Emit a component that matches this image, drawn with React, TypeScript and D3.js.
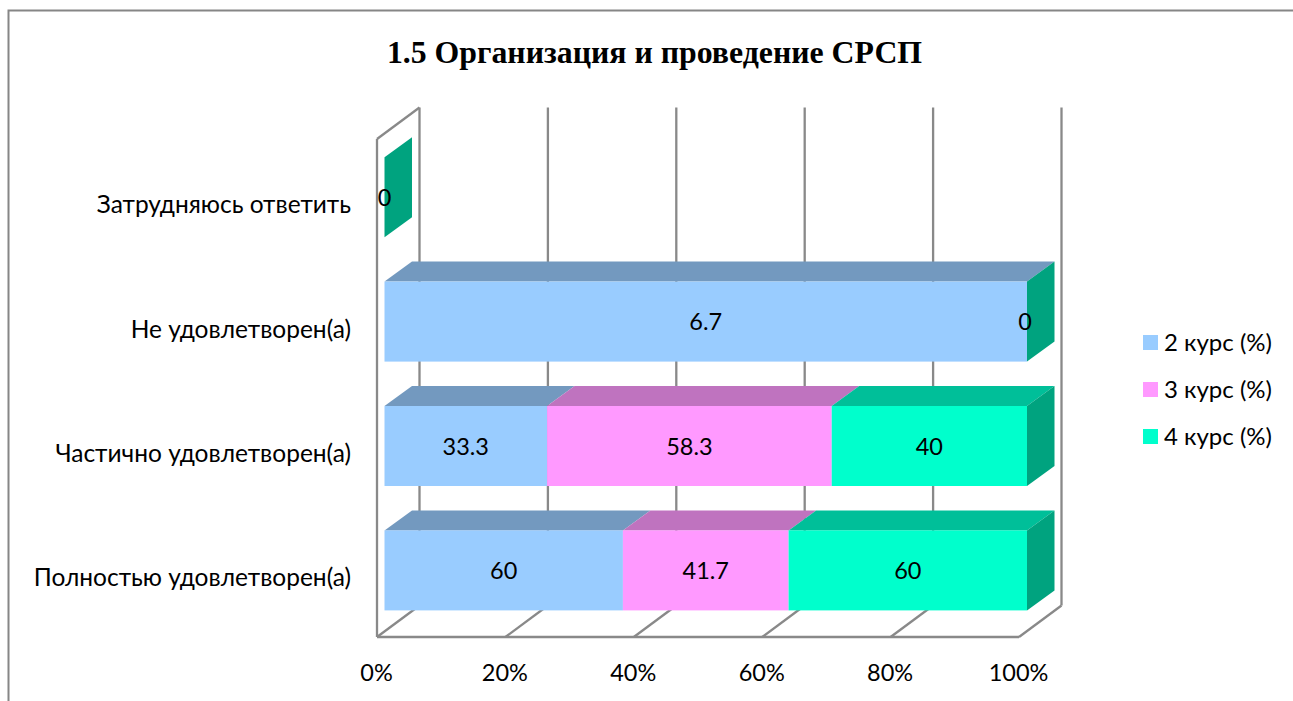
import React from "react";
import * as d3 from "d3";

const title = "1.5 Организация и проведение СРСП";
const categories = ["Затрудняюсь ответить", "Не удовлетворен(а)", "Частично удовлетворен(а)", "Полностью удовлетворен(а)"];
const seriesNames = ["2 курс (%)", "3 курс (%)", "4 курс (%)"];
const course2: (number | null)[] = [null, 6.7, 33.3, 60];
const course3: (number | null)[] = [null, null, 58.3, 41.7];
const course4: (number | null)[] = [0, 0, 40, 60];
const ticks = [0, 0.2, 0.4, 0.6, 0.8, 1];

const frontColors = ["#99CCFF", "#FF99FF", "#00FFCC"];
const topColors = ["#7399BF", "#BF73BF", "#00BF99"];
const sideColor = "#00A37F";
const gridColor = "#898989";
const FONT = "Lato, 'Open Sans', sans-serif";

const W = 1293, H = 701;
// axis box
const wallX = d3.scaleLinear().domain([0, 1]).range([377, 1019]);
const floorY = 637, wallTop = 139, boxDx = 42.5, boxDy = -31.5;
// bars
const barX = d3.scaleLinear().domain([0, 1]).range([384.5, 1027]);
const barY = d3.scaleBand<string>().domain(categories).range([135, 632.6]).paddingInner(0.357).paddingOuter(0.1785);
const depthX = 27.5, depthY = -20;

const poly = (pts: [number, number][]) => pts.map((p) => p.join(",")).join(" ");

export default function App() {
  const series = [course2, course3, course4];
  const stacked = categories.map((cat, i) => {
    const vals = series.map((s) => s[i] ?? 0);
    const total = d3.sum(vals);
    let acc = 0;
    return vals.map((v, s) => {
      const x0 = total ? acc / total : 0;
      acc += v;
      const x1 = total ? acc / total : 0;
      return { cat, s, v, raw: series[s][i], x0, x1 };
    });
  });
  const bw = barY.bandwidth();

  return (
    <svg width={W} height={H} style={{ position: "absolute", left: 0, top: 0, display: "block", background: "#fff" }}>
      <path d={`M${W},10.5H8.5V${H}`} fill="none" stroke="#868686" strokeWidth={2} />
      <text x={654.5} y={63} textAnchor="middle" fontFamily="'Liberation Serif', serif" fontWeight="bold" fontSize={31.8}>{title}</text>

      {/* walls and floor */}
      <g fill="none" stroke={gridColor} strokeWidth={2.3}>
        {ticks.map((t) => (
          <g key={t}>
            <line x1={wallX(t) + boxDx} x2={wallX(t) + boxDx} y1={wallTop + boxDy} y2={floorY + boxDy} />
            <line x1={wallX(t)} x2={wallX(t) + boxDx} y1={floorY} y2={floorY + boxDy} />
          </g>
        ))}
        <line x1={wallX(0)} x2={wallX(1)} y1={floorY} y2={floorY} />
        <line x1={wallX(0)} x2={wallX(0)} y1={wallTop} y2={floorY} />
        <line x1={wallX(0)} x2={wallX(0) + boxDx} y1={wallTop} y2={wallTop + boxDy} />
      </g>

      {/* bars */}
      {stacked.map((row) => {
        const y = barY(row[0].cat)!;
        return (
          <g key={row[0].cat}>
            {row.map((d) => (
              <g key={d.s}>
                {d.x1 > d.x0 && (
                  <>
                    <polygon
                      fill={topColors[d.s]}
                      points={poly([
                        [barX(d.x0), y],
                        [barX(d.x1), y],
                        [barX(d.x1) + depthX, y + depthY],
                        [barX(d.x0) + depthX, y + depthY],
                      ])}
                    />
                    <rect x={barX(d.x0)} y={y} width={barX(d.x1) - barX(d.x0)} height={bw} fill={frontColors[d.s]} />
                  </>
                )}
              </g>
            ))}
            <polygon
              fill={sideColor}
              points={poly([
                [barX(row[2].x1), y],
                [barX(row[2].x1) + depthX, y + depthY],
                [barX(row[2].x1) + depthX, y + depthY + bw],
                [barX(row[2].x1), y + bw],
              ])}
            />
          </g>
        );
      })}

      {/* data labels */}
      <g fontFamily={FONT} fontSize={23.5} fill="#000" textAnchor="middle">
        {stacked.flatMap((row) =>
          row
            .filter((d) => d.raw !== null)
            .map((d) => (
              <text key={d.cat + d.s} x={barX((d.x0 + d.x1) / 2) - (d.raw === 0 && d.x0 > 0 ? 2 : 0)} y={barY(d.cat)! + bw / 2 + 8.5}>
                {d.raw}
              </text>
            ))
        )}
      </g>

      {/* category labels */}
      <g fontFamily={FONT} fontSize={24.5} fill="#000" textAnchor="end">
        {categories.map((c) => (
          <text key={c} x={351} y={barY(c)! + bw / 2 + 16}>{c}</text>
        ))}
      </g>

      {/* value axis */}
      <g fontFamily={FONT} fontSize={23.5} fill="#000" textAnchor="middle">
        {ticks.map((t) => (
          <text key={t} x={wallX(t) - 0.5} y={680.5}>{d3.format(".0%")(t)}</text>
        ))}
      </g>

      {/* legend */}
      <g fontFamily={FONT} fontSize={24} fill="#000">
        {seriesNames.map((n, i) => (
          <g key={n} transform={`translate(0,${344 + i * 47})`}>
            <rect x={1143} y={-9} width={15} height={15} fill={frontColors[i]} />
            <text x={1164} y={7}>{n}</text>
          </g>
        ))}
      </g>
    </svg>
  );
}
